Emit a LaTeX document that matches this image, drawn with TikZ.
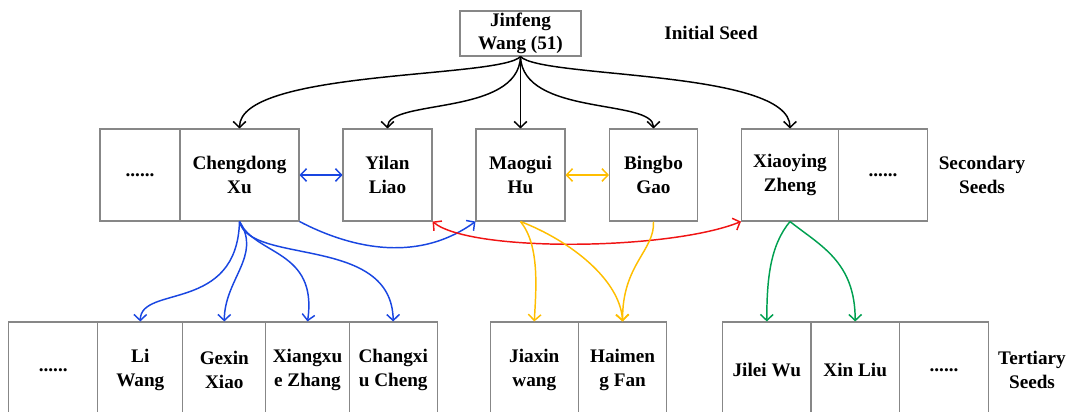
\documentclass[tikz,border=0pt]{standalone}
\usepackage{fontspec}
\setmainfont{Liberation Serif}
\usetikzlibrary{arrows.meta}
\definecolor{myblue}{RGB}{25,70,225}
\definecolor{myred}{RGB}{240,20,20}
\definecolor{myorange}{RGB}{255,190,0}
\definecolor{mygreen}{RGB}{0,160,80}
\definecolor{boxgray}{RGB}{135,135,135}
\begin{document}
\begin{tikzpicture}[x=0.75pt,y=-0.75pt,
  txt/.style={font=\bfseries\fontsize{14.4}{17.5}\selectfont, align=center, inner sep=0pt},
  box/.style 2 args={txt, draw=boxgray, line width=0.8pt, minimum width=#1*0.75pt, minimum height=#2*0.75pt},
  arr/.style={line width=1.1pt, -{Straight Barb[length=4.5pt,width=9.5pt]}},
  darr/.style={line width=1.1pt, {Straight Barb[length=4.5pt,width=9.5pt]}-{Straight Barb[length=4.5pt,width=9.5pt]}}]
\clip (0,0) rectangle (1074,411);
\useasboundingbox (0,0) rectangle (1074,411);
% top
\node[box={121}{45}] (top) at (520.5,33.5) {Jinfeng\\Wang (51)};
\node[txt] (lab1) at (711,33) {Initial Seed};
% secondary row
\node[box={80}{92}] (sd1) at (140,175) {......};
\node[box={119}{92}] (cx) at (239.5,175) {Chengdong\\Xu};
\node[box={89}{92}] (yl) at (387.5,175) {Yilan\\Liao};
\node[box={89}{92}] (mh) at (520.5,175) {Maogui\\Hu};
\node[box={88}{92}] (bg) at (653.5,175) {Bingbo\\Gao};
\node[box={97}{92}] (xz) at (790,175) {Xiaoying\\Zheng};
\node[box={89}{92}] (sd2) at (883,175) {......};
\node[txt] (lab2) at (982,175) {Secondary\\Seeds};
% tertiary row
\node[box={89}{96}] (td1) at (53.2,370) {......};
\node[box={85}{96}] (lw) at (140.3,370) {Li\\Wang};
\node[box={83}{96}] (gx) at (224.3,370) {Gexin\\Xiao};
\node[box={83.4}{96}] (xzh) at (307.5,370) {Xiangxu\\e Zhang};
\node[box={88}{96}] (cc) at (393.2,370) {Changxi\\u Cheng};
\node[box={88}{96}] (jw) at (534.3,370) {Jiaxin\\wang};
\node[box={88.7}{96}] (hf) at (622.6,370) {Haimen\\g Fan};
\node[box={88.4}{96}] (jl) at (766.8,370) {Jilei Wu};
\node[box={88.5}{96}] (xl) at (855.2,370) {Xin Liu};
\node[box={89}{96}] (td2) at (944,370) {......};
\node[txt] (lab3) at (1032,370) {Tertiary\\Seeds};
% black arrows
\draw[arr] (top.south) .. controls +(-20.5,22) and +(0,-59) .. (cx.north);
\draw[arr] (top.south) .. controls +(-2,60) and +(0,-30) .. (yl.north);
\draw[arr] (top.south) -- (mh.north);
\draw[arr] (top.south) .. controls +(2,60) and +(0,-30) .. (bg.north);
\draw[arr] (top.south) .. controls +(20.5,22) and +(0,-59) .. (xz.north);
% double arrows
\draw[darr, myblue] (cx.east) -- (yl.west);
\draw[darr, myorange] (mh.east) -- (bg.west);
% blue
\draw[arr, myblue] (cx.south east) .. controls +(46,24) and +(-61,44) .. (mh.south west);
\draw[arr, myblue] (cx.south) .. controls +(-2.5,92) and +(0,-37) .. (lw.north);
\draw[arr, myblue] (cx.south) .. controls +(22.5,34) and +(0,-42) .. (gx.north);
\draw[arr, myblue] (cx.south) .. controls +(15.5,34) and +(10.5,-72) .. (xzh.north);
\draw[arr, myblue] (cx.south) .. controls +(10.5,44) and +(-1.2,-87) .. (cc.north);
% red
\draw[darr, myred] (yl.south east) .. controls +(38,31) and +(-71.7,29) .. (xz.south west);
% orange
\draw[arr, myorange] (mh.south) .. controls +(19.5,24) and +(1.7,-32) .. (jw.north);
\draw[arr, myorange] (mh.south) .. controls +(49.5,19) and +(-2.6,-42) .. (hf.north);
\draw[arr, myorange] (bg.south) .. controls +(1.5,29) and +(-0.6,-57) .. (hf.north);
% green
\draw[arr, mygreen] (xz.south) .. controls +(-20,24) and +(0,-42) .. (jl.north);
\draw[arr, mygreen] (xz.south) .. controls +(30,24) and +(0,-60) .. (xl.north);
\end{tikzpicture}
\end{document}
